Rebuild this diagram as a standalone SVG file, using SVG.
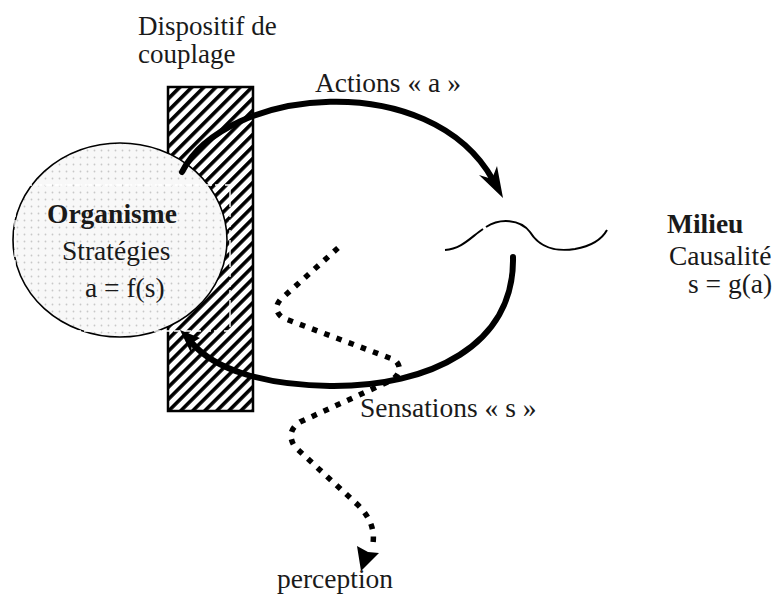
<svg xmlns="http://www.w3.org/2000/svg" width="783" height="601" viewBox="0 0 783 601">
<defs>
<pattern id="hatch" patternUnits="userSpaceOnUse" width="8.5" height="8.5" patternTransform="rotate(45)">
<rect x="0" y="0" width="8.5" height="8.5" fill="#fff"/>
<rect x="0" y="0" width="3.6" height="8.5" fill="#000"/>
</pattern>
<pattern id="dots" patternUnits="userSpaceOnUse" width="7" height="7">
<rect width="7" height="7" fill="#f8f8f8"/>
<circle cx="3.5" cy="3.5" r="0.9" fill="#c8c8c8"/>
</pattern>
<style>
.arc{fill:none;stroke:#000;stroke-width:6;stroke-linecap:round}
.dot{fill:none;stroke:#000;stroke-width:5.5;stroke-dasharray:5.5 7.5}
.head{fill:#000}
</style>
</defs>
<rect width="783" height="601" fill="#fff"/>

<g font-family="Liberation Serif, Times New Roman, serif" font-size="27.5" fill="#1a1a1a">
<g id="coupling">
<rect x="168" y="87" width="85" height="324" fill="url(#hatch)" stroke="#000" stroke-width="2.5"/>
<text x="138" y="35" font-size="27">Dispositif de</text>
<text x="138" y="63" font-size="27">couplage</text>
</g>

<g id="organisme">
<ellipse cx="120" cy="240" rx="107" ry="97" fill="url(#dots)" stroke="#000" stroke-width="1.6"/>
<rect x="15" y="185" width="215" height="146" fill="none" stroke="#fff" stroke-width="1.4" stroke-dasharray="7 3"/>
<text x="47" y="223" font-weight="bold">Organisme</text>
<text x="62" y="260">Stratégies</text>
<text x="85" y="297">a = f(s)</text>
</g>

<g id="milieu">
<path d="M445,250 C462,249 472,236 483,229 M486,227 C500,218 520,219 530,232 C540,248 555,252 575,249 C592,246 602,239 607,230" fill="none" stroke="#000" stroke-width="2"/>
<text x="667" y="233" font-weight="bold">Milieu</text>
<text x="669" y="265">Causalité</text>
<text x="688" y="293">s = g(a)</text>
</g>

<g id="connectors">
<path class="arc" d="M182,172 C225,87 430,67 493,180"/>
<polygon class="head" points="503,198 479,175 492,179 497,166"/>
<text x="315" y="92">Actions « a »</text>

<path class="arc" d="M513,257 C515,345 430,387 330,386 C265,385 215,370 192,343"/>
<polygon class="head" points="180,330 200,338 192,343 191,353"/>
<text x="360" y="417">Sensations « s »</text>

<path class="dot" d="M338,248 L280,300 Q272,310 283,318 L395,360 Q405,370 392,380 L300,422 Q285,432 295,447 L358,505 Q378,525 372,548"/>
<polygon class="head" points="361,571 357,546 368,552 379,553"/>
<text x="277" y="588">perception</text>
</g>
</g>
</svg>
